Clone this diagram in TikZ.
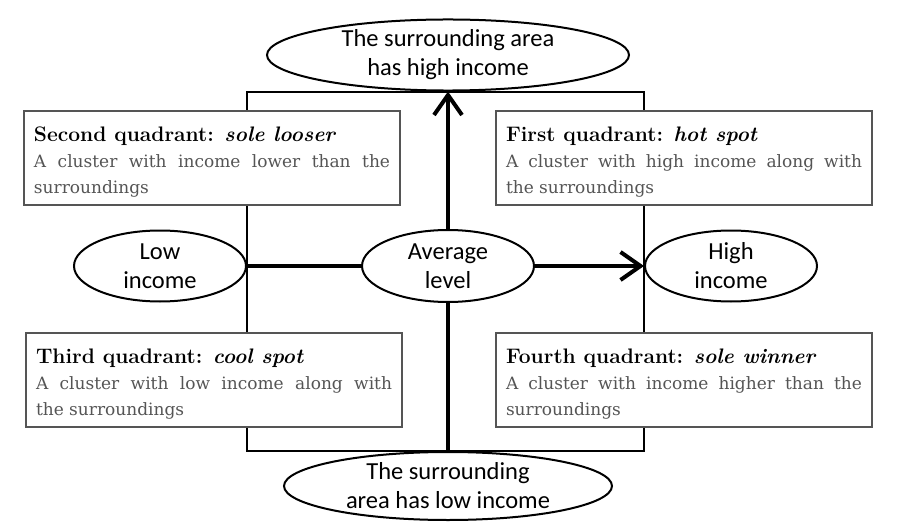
\documentclass[tikz,border=0pt]{standalone}
\usepackage{fontspec}
\usepackage{tikz}
\usetikzlibrary{shapes.geometric,arrows.meta}
\newfontfamily\ovalfont{Carlito}
\newfontfamily\bodyfont{DejaVu Serif}
\definecolor{bodygray}{RGB}{85,85,85}
\newcommand{\quadtitle}[2]{{\fontsize{21}{26}\selectfont\bfseries\rule{0pt}{23pt}#1 \textit{#2}}}

\begin{document}
\begin{tikzpicture}[x=1pt,y=-1pt,
    oval/.style={draw,ellipse,line width=2pt,fill=white,inner sep=0pt,align=center,
      font=\ovalfont\fontsize{24.5}{29}\selectfont},
    quad/.style={draw=bodygray,line width=1.2pt,fill=white,text width=356pt,
      minimum height=94pt,inner xsep=10pt,inner ysep=0pt,align=justify,
      font=\fontsize{17}{26}\selectfont},
    axis/.style={line width=4pt}]
    \useasboundingbox (0,0) rectangle (905,532);
    \node[oval,minimum width=362pt,minimum height=66pt] (n0) at (448,55) {The surrounding area\\has high income};
    \node[oval,minimum width=172pt,minimum height=71pt] (n1) at (160,266) {Low\\income};
    \node[oval,minimum width=172pt,minimum height=72pt] (n2) at (448,266) {Average\\level};
    \node[oval,minimum width=172pt,minimum height=71pt] (n3) at (731,266) {High\\income};
    \node[oval,minimum width=328pt,minimum height=68pt] (n4) at (448,486) {The surrounding\\area has low income};
    % quadrant frame behind the boxes
    \draw[line width=2pt] (n1.east |- n0.south) rectangle (n3.west |- n4.north);
    \node[quad] (q2) at (212,158) {\quadtitle{Second quadrant:}{sole looser}\\
      \textcolor{bodygray}{\bodyfont A cluster with income lower than the\linebreak surroundings}};
    \node[quad] (q1) at (684,158) {\quadtitle{First quadrant:}{hot spot}\\
      \textcolor{bodygray}{\bodyfont A cluster with high income along with\linebreak the surroundings}};
    \node[quad] (q3) at (214,380) {\quadtitle{Third quadrant:}{cool spot}\\
      \textcolor{bodygray}{\bodyfont A cluster with low income along with\linebreak the surroundings}};
    \node[quad] (q4) at (684,380) {\quadtitle{Fourth quadrant:}{sole winner}\\
      \textcolor{bodygray}{\bodyfont A cluster with income higher than the\linebreak surroundings}};
    \draw[axis,-{Straight Barb[length=20pt,width=28pt,line width=4pt]}] (n2) edge (n0) edge (n3);
    \draw[axis] (n2) edge (n1) edge (n4);
\end{tikzpicture}
\end{document}
